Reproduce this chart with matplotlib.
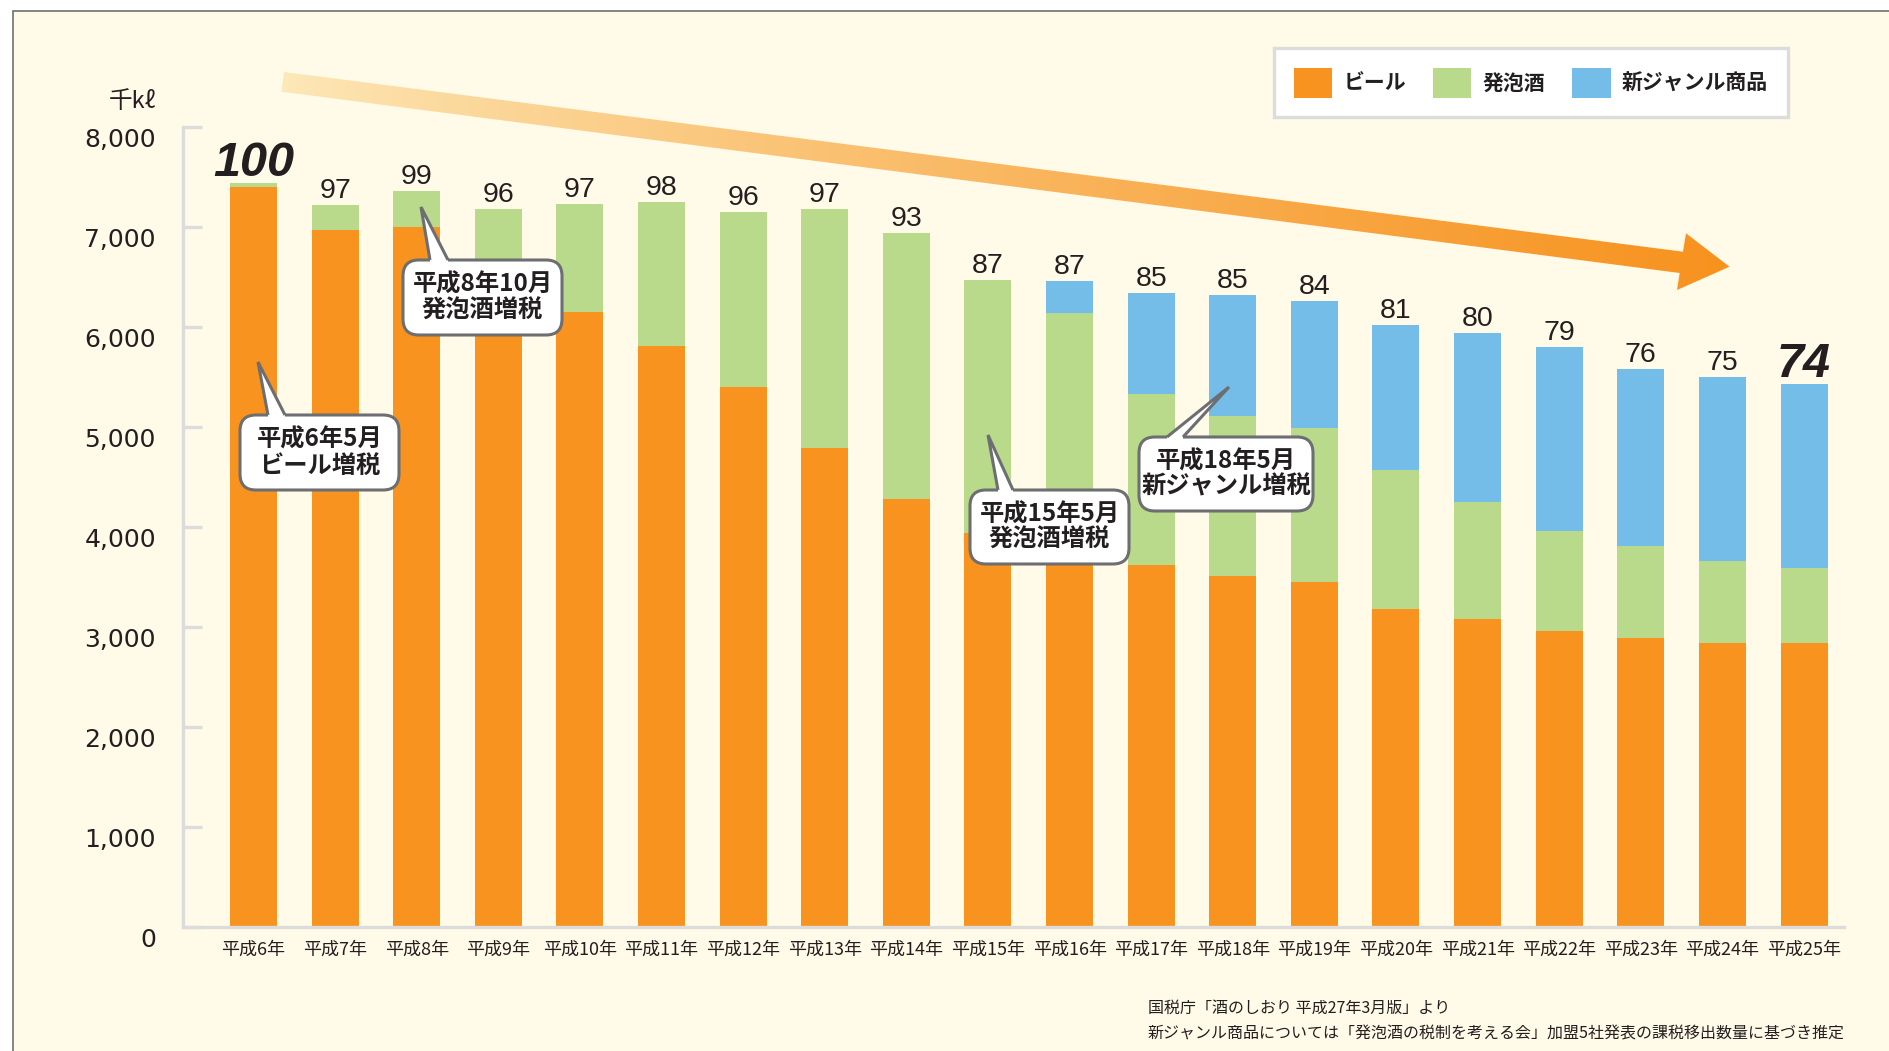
import numpy as np
import matplotlib.pyplot as plt
from matplotlib.patches import Polygon, FancyBboxPatch, Rectangle
from matplotlib.transforms import ScaledTranslation

plt.rcParams['font.family'] = ['Noto Sans CJK JP', 'DejaVu Sans']

# データ（千kℓ）
years = ['平成6年', '平成7年', '平成8年', '平成9年', '平成10年', '平成11年', '平成12年',
         '平成13年', '平成14年', '平成15年', '平成16年', '平成17年', '平成18年', '平成19年',
         '平成20年', '平成21年', '平成22年', '平成23年', '平成24年', '平成25年']
beer = [7400, 6975, 7005, 6640, 6150, 5815, 5405, 4795, 4285, 3940,
        3750, 3625, 3515, 3455, 3185, 3085, 2965, 2895, 2845, 2845]
happoshu = [40, 248, 358, 540, 1083, 1441, 1751, 2388, 2658, 2536,
            2397, 1708, 1601, 1541, 1388, 1171, 998, 921, 818, 748]
new_genre = [0, 0, 0, 0, 0, 0, 0, 0, 0, 0,
             316, 1010, 1207, 1267, 1450, 1687, 1840, 1767, 1840, 1840]
index_labels = ['100', '97', '99', '96', '97', '98', '96', '97', '93', '87',
                '87', '85', '85', '84', '81', '80', '79', '76', '75', '74']
yticks = [0, 1000, 2000, 3000, 4000, 5000, 6000, 7000, 8000]

series_names = ['ビール', '発泡酒', '新ジャンル商品']
colors = ['#f7931e', '#b9d98b', '#74bde8']

bg = '#fffbe8'
txt = '#231f20'

fig = plt.figure(figsize=(18.9, 10.51), dpi=100, facecolor='white')

# 背景・枠（ピクセル座標）
ax_bg = fig.add_axes([0, 0, 1, 1], zorder=0)
ax_bg.set_xlim(0, 1890)
ax_bg.set_ylim(1051, 0)
ax_bg.axis('off')
ax_bg.add_patch(Rectangle((13, 11), 1900, 1100, fc=bg, ec='#707070', lw=1.2))

# メインのグラフ
ax = fig.add_axes([183 / 1890, 1 - 927.3 / 1051, (1844 - 183) / 1890, 800 / 1051], zorder=1)
ax.patch.set_alpha(0)

x = np.arange(len(years))
b1 = np.array(beer)
b2 = np.array(happoshu)
b3 = np.array(new_genre)
w = 0.576
h1 = ax.bar(x, b1, w, color=colors[0], label=series_names[0], zorder=2)
h2 = ax.bar(x, b2, w, bottom=b1, color=colors[1], label=series_names[1], zorder=2)
h3 = ax.bar(x, b3, w, bottom=b1 + b2, color=colors[2], label=series_names[2], zorder=2)

totals = b1 + b2 + b3
for i, (t, lab) in enumerate(zip(totals, index_labels)):
    if i == 0 or i == len(totals) - 1:
        ax.annotate(lab, (i, t), xytext=(0, 5), textcoords='offset points',
                    ha='center', va='baseline', fontsize=35, fontweight='bold',
                    fontstyle='italic', family='Liberation Sans', color=txt)
    else:
        ax.annotate(lab, (i, t), xytext=(0, 5), textcoords='offset points',
                    ha='center', va='baseline', fontsize=20.5,
                    family='Liberation Sans', color=txt)

ax.set_xlim(-0.864, 19.49)
ax.set_ylim(0, 8000)
ax.set_xticks(x, years, fontsize=13, color=txt)
ax.tick_params(axis='x', length=0, pad=10)
ax.set_yticks(yticks, [f'{v:,}' for v in yticks])
ax.tick_params(axis='y', direction='in', length=14, width=2.4, color='#dcdcdc',
               pad=19.5, labelsize=18, labelcolor=txt)
for lbl in ax.get_yticklabels():
    lbl.set_family('DejaVu Sans')
    lbl.set_transform(lbl.get_transform() + ScaledTranslation(0, -7 / 72, fig.dpi_scale_trans))
for s in ['top', 'right']:
    ax.spines[s].set_visible(False)
for s in ['left', 'bottom']:
    ax.spines[s].set_color('#dcdcdc')
    ax.spines[s].set_linewidth(2.4)

leg = ax.legend(handles=[h1, h2, h3], loc='upper right', ncol=3,
                bbox_to_anchor=(1788 / 1890, 1 - 48 / 1051), bbox_transform=fig.transFigure,
                prop={'weight': 'bold', 'size': 15}, fancybox=False,
                handlelength=1.83, handleheight=1.83, handletextpad=0.55,
                columnspacing=1.3, borderpad=0.95, borderaxespad=0)
leg.get_frame().set_edgecolor('#dcdcdc')
leg.get_frame().set_linewidth(2.4)
leg.get_frame().set_facecolor('white')
leg.get_frame().set_alpha(1)
for t in leg.get_texts():
    t.set_color(txt)

# 上に重ねる装飾（矢印・吹き出し・注記）
ax_top = fig.add_axes([0, 0, 1, 1], zorder=3)
ax_top.set_xlim(0, 1890)
ax_top.set_ylim(1051, 0)
ax_top.axis('off')

arrow_pts = [(284, 72), (1683, 251.7), (1686, 233.3), (1729.5, 266.7),
             (1677, 290), (1679.7, 273), (281.5, 91.7)]
arrow = Polygon(arrow_pts, closed=True, fc='none', ec='none')
ax_top.add_patch(arrow)
c0 = np.array([253, 233, 186]) / 255
c1 = np.array([247, 146, 30]) / 255
tt = np.linspace(0, 1, 256)[None, :, None]
grad = c0 + (c1 - c0) * tt ** 0.8
im = ax_top.imshow(grad, extent=[280, 1730, 295, 65], aspect='auto', interpolation='bilinear')
im.set_clip_path(arrow)

callouts = [
    ('平成6年5月\nビール増税', (319.5, 452.5), (159, 75), (268, 285), (258, 362)),
    ('平成8年10月\n発泡酒増税', (482.5, 297.5), (159, 75), (430, 448), (421, 207)),
    ('平成15年5月\n発泡酒増税', (1049.5, 527), (159, 74), (998, 1013), (988, 435)),
    ('平成18年5月\n新ジャンル増税', (1226, 474), (174, 74), (1167, 1183), (1229, 387)),
]
edge = '#6d6e71'
for text, (cx, cy), (bw, bh), (bx1, bx2), (tx, ty) in callouts:
    top = cy - bh / 2
    box = FancyBboxPatch((cx - bw / 2, top), bw, bh,
                         boxstyle='round,pad=0,rounding_size=16',
                         fc='white', ec=edge, lw=2.2, zorder=5)
    ax_top.add_patch(box)
    ax_top.add_patch(Polygon([(bx1, top + 4), (bx1, top), (tx, ty), (bx2, top), (bx2, top + 4)],
                             closed=True, fc='white', ec='none', zorder=6))
    ax_top.plot([bx1, tx, bx2], [top, ty, top], color=edge, lw=2.2, zorder=7,
                solid_joinstyle='miter', solid_capstyle='butt')
    ax_top.text(cx, cy, text, ha='center', va='center', fontsize=17.5,
                fontweight='bold', color=txt, linespacing=1.1, zorder=8)

ax_top.text(156, 101, '千kℓ', ha='right', va='center', fontsize=17, color=txt)
ax_top.text(1148, 1008, '国税庁「酒のしおり 平成27年3月版」より',
            ha='left', va='center', fontsize=11.5, color=txt)
ax_top.text(1148, 1034, '新ジャンル商品については「発泡酒の税制を考える会」加盟5社発表の課税移出数量に基づき推定',
            ha='left', va='center', fontsize=11.5, color=txt)

fig.savefig('out.png', dpi=100, facecolor='white')
